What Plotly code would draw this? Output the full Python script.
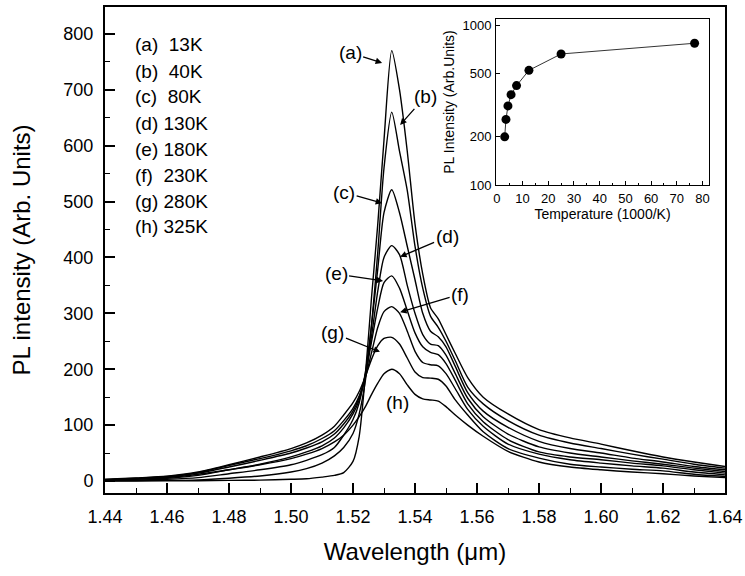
import plotly.graph_objects as go

# ---------------- data ----------------
wavelength = [1.44, 1.45, 1.46, 1.47, 1.48, 1.49, 1.50, 1.505, 1.51, 1.514, 1.517,
              1.520, 1.522, 1.524, 1.526, 1.528, 1.530, 1.5325, 1.535, 1.5375,
              1.540, 1.5425, 1.545, 1.5475, 1.550, 1.553, 1.557, 1.562, 1.57,
              1.58, 1.59, 1.60, 1.61, 1.62, 1.63, 1.64]

pl_a = [0, 0, 0.3, 0.5, 1, 1.5, 3, 4, 7, 10, 15,
        35, 80, 190, 330, 460, 610, 770, 700, 590,
        460, 370, 310, 290, 262, 228, 185, 150, 120,
        92, 77, 66, 54, 43, 34, 26]
pl_b = [0.5, 0.8, 1, 2, 5, 9, 16, 22, 32, 45, 60,
        85, 120, 180, 280, 410, 560, 660, 590, 520,
        420, 345, 295, 275, 250, 215, 168, 138, 108,
        82, 68, 58, 48, 39, 30, 23]
pl_c = [1, 1.5, 3, 6, 13, 20, 29, 37, 47, 60, 82,
        110, 140, 195, 280, 380, 480, 521, 480, 420,
        360, 300, 268, 258, 240, 205, 158, 125, 96,
        71, 58, 50, 41, 34, 26, 20]
pl_d = [1.5, 3, 5, 10, 20, 30, 43, 52, 63, 77, 95,
        120, 145, 190, 260, 340, 400, 421, 405, 350,
        300, 262, 245, 242, 225, 192, 148, 115, 84,
        61, 50, 43, 36, 30, 23, 17]
pl_e = [2, 4, 7, 14, 25, 37, 50, 59, 70, 84, 102,
        125, 150, 190, 250, 310, 355, 367, 345, 305,
        265, 240, 230, 226, 210, 180, 138, 106, 74,
        52, 43, 38, 32, 27, 20, 14]
pl_f = [2.5, 5, 8, 15, 28, 40, 54, 63, 76, 90, 108,
        130, 152, 185, 230, 275, 303, 312, 300, 268,
        232, 212, 208, 206, 192, 165, 128, 98, 66,
        48, 38, 32, 27, 23, 16, 11]
pl_g = [3, 5.5, 8.5, 16, 29, 43, 58, 68, 82, 98, 118,
        140, 160, 187, 218, 242, 255, 257, 245, 220,
        195, 185, 184, 182, 170, 145, 118, 88, 58,
        41, 30, 25, 21, 18, 12, 8]
pl_h = [2, 4, 6, 12, 20, 29, 40, 48, 58, 70, 82,
        100, 115, 133, 155, 175, 192, 200, 192, 172,
        155, 147, 145, 143, 133, 118, 100, 80, 53,
        34, 25, 20, 16, 13, 9, 6]
spectra = [pl_a, pl_b, pl_c, pl_d, pl_e, pl_f, pl_g, pl_h]

curve_labels = ["(a)", "(b)", "(c)", "(d)", "(e)", "(f)", "(g)", "(h)"]
legend_lines = ["(a)\u00a0\u00a013K", "(b)\u00a0\u00a040K", "(c)\u00a0\u00a080K",
                "(d) 130K", "(e) 180K", "(f)\u00a0\u00a0230K", "(g) 280K", "(h) 325K"]

# label arrow tips (wavelength, intensity) and text offsets in pixels
tip_wl = [1.5294, 1.5352, 1.5294, 1.5352, 1.5297, 1.5352, 1.5287, 1.5342]
tip_pl = [748, 637, 497, 401, 358, 302, 231, 141]
off_x = [-32, 25, -38, 47, -47, 60, -47, 0]
off_y = [-10, -28, -11, -20, -7, -18, -19, 0]

# inset: inverse temperature vs peak intensity
inv_temp = [3.08, 3.57, 4.35, 5.56, 7.69, 12.5, 25.0, 76.9]
peak_pl = [200, 257, 312, 367, 418, 521, 659, 769]

FONT = "Liberation Sans, Arial, sans-serif"

fig = go.Figure()
for ys in spectra:
    fig.add_trace(go.Scatter(x=wavelength, y=ys, mode="lines",
                             line=dict(color="black", width=1.4, shape="spline", smoothing=0.7),
                             showlegend=False, hoverinfo="skip"))

fig.add_trace(go.Scatter(x=inv_temp, y=peak_pl, mode="lines+markers",
                         line=dict(color="black", width=0.8),
                         marker=dict(color="black", size=9),
                         xaxis="x2", yaxis="y2", showlegend=False))

ann = []
for i, lab in enumerate(curve_labels):
    has_arrow = not (off_x[i] == 0 and off_y[i] == 0)
    ann.append(dict(x=tip_wl[i], y=tip_pl[i], xref="x", yref="y", text=lab,
                    showarrow=has_arrow, ax=off_x[i], ay=off_y[i],
                    arrowhead=2, arrowsize=1, arrowwidth=1.3, arrowcolor="black",
                    standoff=0, font=dict(size=19, color="black", family=FONT)))

W, H = 745, 576
L, R, T, B = 105, 20, 7, 83
pw, ph = W - L - R, H - T - B
for i, t in enumerate(legend_lines):
    px, py = 133, 45 + 26 * i
    ann.append(dict(x=(px - L) / pw, y=1 - (py - T) / ph, xref="paper", yref="paper",
                    text=t, showarrow=False, xanchor="left", yanchor="middle",
                    font=dict(size=19, color="black", family=FONT)))

fig.update_layout(
    width=W, height=H,
    margin=dict(l=L, r=R, t=T, b=B, autoexpand=False),
    paper_bgcolor="white", plot_bgcolor="white",
    font=dict(family=FONT, color="black"),
    annotations=ann,
    xaxis=dict(range=[1.44, 1.64], domain=[0, 1], dtick=0.02, tickformat=".2f",
               ticks="inside", ticklen=10, tickwidth=1.5, tickcolor="black",
               minor=dict(ticks="inside", ticklen=5, tickwidth=1.2, dtick=0.01, tickcolor="black"),
               showline=True, linecolor="black", linewidth=2, mirror=True,
               showgrid=False, zeroline=False, automargin=False,
               tickfont=dict(size=18), ticklabelstandoff=6,
               title=dict(text="Wavelength (\u03bcm)", font=dict(size=24), standoff=18)),
    yaxis=dict(range=[-21.5, 848], domain=[0, 1], dtick=100,
               ticks="inside", ticklen=10, tickwidth=1.5, tickcolor="black",
               minor=dict(ticks="inside", ticklen=5, tickwidth=1.2, dtick=50, tickcolor="black"),
               showline=True, linecolor="black", linewidth=2, mirror=True,
               showgrid=False, zeroline=False, automargin=False,
               tickfont=dict(size=18), ticklabelstandoff=6,
               title=dict(text="PL intensity (Arb. Units)", font=dict(size=24), standoff=26)),
    xaxis2=dict(domain=[(496 - L) / pw, (709 - L) / pw], anchor="y2",
                range=[-0.3, 82.5], dtick=10,
                ticks="inside", ticklen=4, tickcolor="black",
                minor=dict(ticks="inside", ticklen=2.5, dtick=5, tickcolor="black"),
                showline=True, linecolor="black", linewidth=1, mirror=True,
                showgrid=False, zeroline=False, automargin=False, tickfont=dict(size=13),
                ticklabelstandoff=1,
                title=dict(text="Temperature (1000/K)", font=dict(size=14), standoff=2)),
    yaxis2=dict(domain=[1 - (185 - T) / ph, 1 - (19 - T) / ph], anchor="x2",
                type="log", range=[2, 3.0375],
                tickvals=[100, 200, 500, 1000], ticktext=["100", "200", "500", "1000"],
                ticks="inside", ticklen=4, tickcolor="black",
                showline=True, linecolor="black", linewidth=1, mirror=True,
                showgrid=False, zeroline=False, automargin=False, tickfont=dict(size=13),
                ticklabelstandoff=1,
                title=dict(text="PL Intensity (Arb.Units)", font=dict(size=14), standoff=4)),
)

fig.write_html("out.html", config={"displayModeBar": False},
               post_script="document.body.style.margin='0';document.body.style.overflow='hidden';")
